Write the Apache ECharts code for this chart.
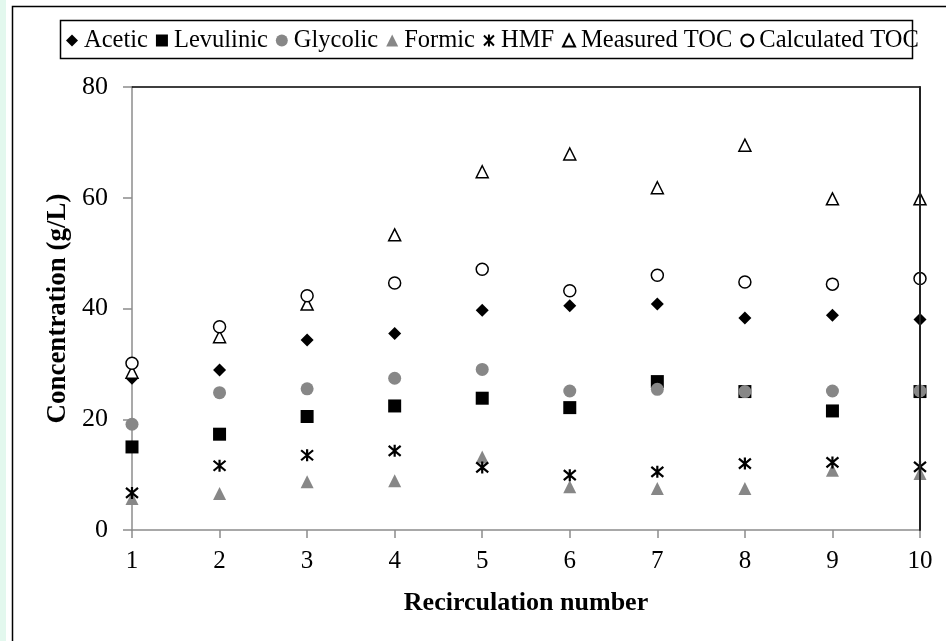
<!DOCTYPE html>
<html>
<head>
<meta charset="utf-8">
<script src="https://cdn.jsdelivr.net/npm/echarts@6/dist/echarts.min.js"></script>
<style>
html,body{margin:0;padding:0;background:#fff;}
#chart{width:946px;height:641px;}
</style>
</head>
<body>
<div id="chart"></div>
<script>
const recirculation = [1, 2, 3, 4, 5, 6, 7, 8, 9, 10];
const acetic        = [27.4, 28.9, 34.3, 35.5, 39.7, 40.5, 40.8, 38.3, 38.8, 38.0];
const levulinic     = [15.0, 17.3, 20.5, 22.4, 23.8, 22.1, 26.8, 25.0, 21.5, 25.0];
const glycolic      = [19.1, 24.8, 25.5, 27.4, 29.0, 25.1, 25.4, 25.0, 25.1, 25.1];
const formic        = [5.7, 6.6, 8.7, 8.9, 13.2, 7.8, 7.5, 7.5, 10.8, 10.2];
const hmf           = [6.7, 11.6, 13.5, 14.3, 11.3, 9.9, 10.5, 12.0, 12.2, 11.4];
const measuredTOC   = [28.5, 34.9, 40.8, 53.3, 64.7, 67.9, 61.8, 69.5, 59.8, 59.8];
const calculatedTOC = [30.1, 36.7, 42.3, 44.6, 47.1, 43.2, 46.0, 44.8, 44.4, 45.4];
const seriesNames = ['Acetic', 'Levulinic', 'Glycolic', 'Formic', 'HMF', 'Measured TOC', 'Calculated TOC'];
const yTicks = [0, 20, 40, 60, 80];

const FONT = '"Liberation Serif", "Times New Roman", serif';
const pair = arr => arr.map((v, i) => [recirculation[i], v]);
const starPath = 'path://M0,0L10,10M10,0L0,10M5,-1L5,11';

const styles = [
  {symbol: 'diamond', size: 13, itemStyle: {color: '#000', opacity: 1}},
  {symbol: 'rect', size: 13, itemStyle: {color: '#000', opacity: 1}},
  {symbol: 'circle', size: 13, itemStyle: {color: '#878787', opacity: 1}},
  {symbol: 'triangle', size: 13, itemStyle: {color: '#878787', opacity: 1}},
  {symbol: starPath, size: 12, itemStyle: {color: '#000', borderColor: '#000', borderWidth: 2.2, opacity: 1}},
  {symbol: 'triangle', size: 12, itemStyle: {color: '#fff', borderColor: '#000', borderWidth: 1.5, opacity: 1}},
  {symbol: 'circle', size: 12, itemStyle: {color: '#fff', borderColor: '#000', borderWidth: 1.5, opacity: 1}}
];
const dataArr = [acetic, levulinic, glycolic, formic, hmf, measuredTOC, calculatedTOC];

const chart = echarts.init(document.getElementById('chart'), null, {renderer: 'canvas'});
chart.setOption({
  backgroundColor: '#fff',
  animation: false,
  graphic: [
    {type: 'rect', shape: {x: 0, y: 0, width: 6, height: 641}, style: {fill: '#e3f8ee'}, silent: true},
    {type: 'polyline', shape: {points: [[12.5, 641], [12.5, 6.5], [946, 6.5]]}, style: {stroke: '#000', lineWidth: 1.5, fill: null}, silent: true},
    {type: 'rect', shape: {x: 60.5, y: 20.5, width: 852, height: 38}, style: {fill: null, stroke: '#000', lineWidth: 1.5}, silent: true}
  ],
  legend: {
    data: seriesNames.map((n, i) => ({name: n, icon: i === 4 ? starPath : styles[i].symbol})),
    left: 66,
    top: 28,
    itemWidth: 12,
    itemHeight: 12,
    itemGap: 8,
    padding: 0,
    textStyle: {fontFamily: FONT, fontSize: 24.5, color: '#000', padding: [0, 0, 0, 1]}
  },
  grid: {left: 132, right: 26, top: 87, bottom: 111, containLabel: false},
  xAxis: [
    {
      type: 'value', min: 1, max: 10, interval: 1,
      name: 'Recirculation number', nameLocation: 'middle', nameGap: 60,
      nameTextStyle: {fontFamily: FONT, fontSize: 26, fontWeight: 'bold', color: '#000'},
      axisLine: {show: true, lineStyle: {color: '#8c8c8c', width: 1.5}},
      axisTick: {show: true, inside: false, length: 8, lineStyle: {color: '#8c8c8c', width: 1.5}},
      axisLabel: {fontFamily: FONT, fontSize: 25, color: '#000', margin: 19},
      splitLine: {show: false}
    },
    {
      type: 'value', min: 1, max: 10, position: 'top',
      axisLine: {show: true, onZero: false, lineStyle: {color: '#000', width: 1.5}},
      axisTick: {show: false}, axisLabel: {show: false}, splitLine: {show: false}
    }
  ],
  yAxis: [
    {
      type: 'value', min: yTicks[0], max: yTicks[yTicks.length - 1], interval: 20,
      name: 'Concentration (g/L)', nameLocation: 'middle', nameGap: 56, nameRotate: 90,
      nameTextStyle: {fontFamily: FONT, fontSize: 27, fontWeight: 'bold', color: '#000'},
      axisLine: {show: true, lineStyle: {color: '#8c8c8c', width: 1.5}},
      axisTick: {show: true, inside: false, length: 9, lineStyle: {color: '#8c8c8c', width: 1.5}},
      axisLabel: {fontFamily: FONT, fontSize: 26, color: '#000', margin: 24},
      splitLine: {show: false}
    },
    {
      type: 'value', min: 0, max: 80, position: 'right', z: 5,
      axisLine: {show: true, onZero: false, lineStyle: {color: '#222', width: 2}},
      axisTick: {show: false}, axisLabel: {show: false}, splitLine: {show: false}
    }
  ],
  series: seriesNames.map((n, i) => ({
    name: n,
    type: 'scatter',
    xAxisIndex: 0,
    yAxisIndex: 0,
    symbol: styles[i].symbol,
    symbolSize: styles[i].size,
    itemStyle: styles[i].itemStyle,
    data: pair(dataArr[i]),
    z: 2 + i * 0.01
  }))
});
</script>
</body>
</html>
